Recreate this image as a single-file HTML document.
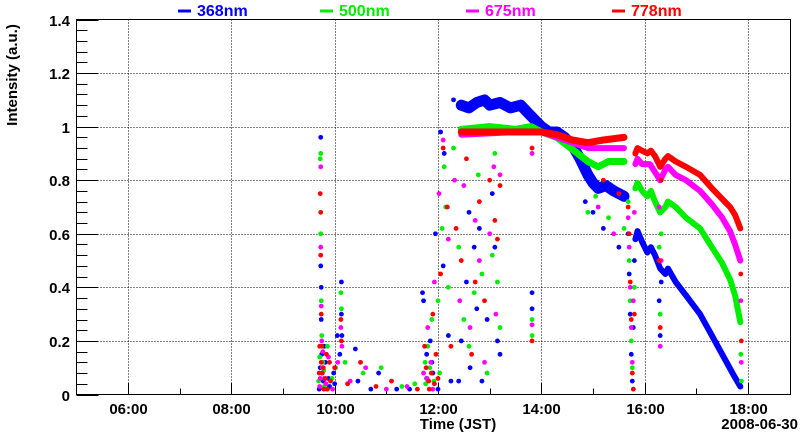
<!DOCTYPE html>
<html><head><meta charset="utf-8">
<style>
html,body{margin:0;padding:0;background:#fff;}
svg{display:block;font-family:"Liberation Sans",sans-serif;font-weight:bold;}
</style></head>
<body>
<svg id="chart" width="800" height="434" viewBox="0 0 800 434" xmlns="http://www.w3.org/2000/svg">
<g id="grid"></g>
<g id="axes"></g>
<g id="data"></g>
<g id="legend"></g>
<text x="0" y="0" transform="translate(17,75) rotate(-90)" text-anchor="middle" font-size="15">Intensity (a.u.)</text>
<text x="458" y="429" text-anchor="middle" font-size="15">Time (JST)</text>
<text x="798" y="429" text-anchor="end" font-size="15">2008-06-30</text>
</svg>
<script>
// ---- data ----
const seriesNames = ["368nm","500nm","675nm","778nm"];
const seriesColors = ["#0000ff","#00ee00","#ff00ff","#ff0000"];
const xTickHours = [6,8,10,12,14,16,18];
const xTickLabels = ["06:00","08:00","10:00","12:00","14:00","16:00","18:00"];
const yTickValues = [0,0.2,0.4,0.6,0.8,1,1.2,1.4];
const yTickLabels = ["0","0.2","0.4","0.6","0.8","1","1.2","1.4"];

// continuous segments: [time(h), value]
const blueCurveA = [[12.45,1.08],[12.6,1.07],[12.75,1.09],[12.9,1.10],[13.0,1.08],[13.2,1.09],[13.4,1.07],[13.6,1.08],[13.75,1.05],[13.9,1.02],[14.0,1.0],[14.15,0.98],[14.3,0.98],[14.45,0.96],[14.6,0.93],[14.75,0.88],[14.9,0.82],[15.0,0.79],[15.1,0.77],[15.25,0.78],[15.4,0.76],[15.6,0.74]];
const blueCurveB = [[15.82,0.58],[15.86,0.61],[15.95,0.57],[16.05,0.53],[16.12,0.55],[16.2,0.52],[16.3,0.47],[16.4,0.45],[16.45,0.47],[16.6,0.42],[16.8,0.37],[17.07,0.30],[17.3,0.22],[17.5,0.15],[17.7,0.08],[17.85,0.03]];
const greenCurveA = [[12.45,0.99],[13.0,1.0],[13.5,0.99],[13.8,1.0],[14.0,0.98],[14.3,0.96],[14.5,0.93],[14.7,0.90],[14.9,0.87],[15.1,0.85],[15.3,0.87],[15.6,0.87]];
const greenCurveB = [[15.82,0.77],[15.86,0.79],[15.95,0.76],[16.05,0.74],[16.12,0.76],[16.2,0.72],[16.3,0.68],[16.4,0.70],[16.45,0.72],[16.6,0.70],[16.8,0.66],[17.07,0.62],[17.3,0.55],[17.5,0.49],[17.65,0.43],[17.75,0.37],[17.85,0.27]];
const magentaCurveA = [[12.45,0.97],[13.5,0.98],[14.0,0.98],[14.3,0.96],[14.6,0.94],[14.9,0.92],[15.2,0.92],[15.6,0.92]];
const magentaCurveB = [[15.82,0.86],[15.86,0.88],[15.95,0.86],[16.1,0.86],[16.2,0.83],[16.3,0.80],[16.4,0.84],[16.45,0.85],[16.6,0.82],[16.8,0.80],[17.07,0.76],[17.3,0.71],[17.5,0.66],[17.65,0.61],[17.75,0.56],[17.85,0.50]];
const redCurveA = [[12.45,0.98],[13.5,0.98],[14.0,0.98],[14.3,0.97],[14.6,0.95],[14.9,0.94],[15.2,0.95],[15.6,0.96]];
const redCurveB = [[15.82,0.90],[15.86,0.92],[15.95,0.91],[16.05,0.90],[16.12,0.91],[16.2,0.89],[16.3,0.85],[16.4,0.88],[16.45,0.89],[16.6,0.87],[16.8,0.85],[17.07,0.82],[17.3,0.77],[17.5,0.73],[17.65,0.70],[17.75,0.67],[17.85,0.62]];

// scattered points: [time(h), value]
const blueScatter = [[9.70,0.02],[9.72,0.10],[9.73,0.96],[9.73,0.48],[9.74,0.40],[9.74,0.28],[9.75,0.15],[9.78,0.05],[9.82,0.12],[9.9,0.03],[9.98,0.08],[10.05,0.22],[10.1,0.15],[10.13,0.42],[10.13,0.30],[10.14,0.22],[10.4,0.17],[10.45,0.05],[10.7,0.02],[10.85,0.08],[11.2,0.02],[11.45,0.02],[11.7,0.38],[11.72,0.35],[11.78,0.15],[11.85,0.2],[11.9,0.08],[11.95,0.6],[12.0,0.02],[12.05,0.98],[12.1,0.48],[12.12,0.9],[12.2,0.22],[12.3,1.1],[12.4,0.05],[12.45,0.2],[12.55,0.42],[12.6,0.68],[12.7,0.55],[12.75,0.32],[12.8,0.62],[12.85,0.05],[12.95,0.28],[13.05,0.75],[13.1,0.55],[13.15,0.2],[13.2,0.15],[13.82,0.38],[13.82,0.32],[14.85,0.72],[15.0,0.68],[15.2,0.62],[15.5,0.55],[15.68,0.6],[15.7,0.45],[15.72,0.3],[15.74,0.15],[15.76,0.05],[15.78,0.25],[15.8,0.5],[16.28,0.35],[16.3,0.22],[16.32,0.42],[9.76,0.08],[9.8,0.18],[9.88,0.06],[10.0,0.04],[11.78,0.06],[11.88,0.12],[12.25,0.05],[12.62,0.1]];
const greenScatter = [[9.69,0.05],[9.72,0.88],[9.73,0.90],[9.73,0.60],[9.74,0.35],[9.75,0.22],[9.77,0.12],[9.8,0.03],[9.86,0.18],[9.95,0.06],[10.02,0.1],[10.12,0.38],[10.13,0.32],[10.2,0.12],[10.55,0.08],[10.9,0.1],[11.3,0.03],[11.55,0.04],[11.75,0.12],[11.8,0.18],[11.88,0.28],[11.92,0.05],[12.0,0.35],[12.08,0.62],[12.12,0.85],[12.15,0.7],[12.2,0.4],[12.3,0.92],[12.4,0.55],[12.5,0.28],[12.6,0.18],[12.7,0.38],[12.78,0.82],[12.85,0.45],[12.95,0.08],[13.05,0.52],[13.1,0.9],[13.15,0.42],[13.2,0.25],[13.82,0.28],[13.82,0.22],[14.9,0.68],[15.05,0.74],[15.3,0.66],[15.6,0.62],[15.68,0.72],[15.7,0.5],[15.72,0.35],[15.74,0.2],[15.76,0.1],[15.78,0.02],[15.8,0.4],[16.28,0.55],[16.3,0.3],[16.32,0.6],[17.86,0.15],[17.87,0.05],[9.71,0.14],[9.79,0.09],[9.84,0.02],[11.76,0.04],[11.84,0.1],[12.03,0.08]];
const magentaScatter = [[9.71,0.03],[9.73,0.85],[9.73,0.55],[9.74,0.33],[9.75,0.2],[9.76,0.1],[9.8,0.06],[9.88,0.14],[9.96,0.02],[10.06,0.12],[10.12,0.25],[10.14,0.18],[10.3,0.05],[10.6,0.1],[11.0,0.02],[11.4,0.03],[11.72,0.08],[11.8,0.25],[11.86,0.12],[11.93,0.42],[12.02,0.75],[12.1,0.95],[12.2,0.58],[12.32,0.8],[12.42,0.35],[12.5,0.78],[12.62,0.25],[12.72,0.65],[12.8,0.5],[12.9,0.12],[13.0,0.6],[13.08,0.85],[13.12,0.3],[13.2,0.82],[13.82,0.26],[13.82,0.9],[15.1,0.7],[15.4,0.6],[15.68,0.66],[15.7,0.55],[15.72,0.4],[15.74,0.25],[15.76,0.12],[15.78,0.35],[15.8,0.68],[16.28,0.7],[16.3,0.18],[16.32,0.5],[17.86,0.35],[17.87,0.12],[9.72,0.06],[9.77,0.16],[9.83,0.04],[11.79,0.06],[11.9,0.02]];
const redScatter = [[9.70,0.08],[9.72,0.75],[9.73,0.68],[9.73,0.52],[9.74,0.3],[9.75,0.18],[9.76,0.08],[9.79,0.02],[9.84,0.15],[9.92,0.05],[10.0,0.1],[10.12,0.28],[10.13,0.2],[10.25,0.04],[10.5,0.12],[10.8,0.03],[11.1,0.05],[11.6,0.02],[11.74,0.18],[11.82,0.05],[11.9,0.3],[11.96,0.15],[12.05,0.45],[12.1,0.92],[12.18,0.7],[12.25,0.18],[12.35,0.62],[12.45,0.5],[12.55,0.88],[12.65,0.15],[12.72,0.42],[12.8,0.72],[12.9,0.35],[13.0,0.8],[13.1,0.65],[13.15,0.58],[13.2,0.78],[13.82,0.92],[13.82,0.2],[15.2,0.8],[15.5,0.75],[15.68,0.7],[15.7,0.6],[15.72,0.42],[15.74,0.28],[15.76,0.08],[15.78,0.02],[15.8,0.3],[16.28,0.5],[16.3,0.25],[16.32,0.8],[17.86,0.45],[17.87,0.2],[9.71,0.18],[9.74,0.12],[9.78,0.1],[9.82,0.06],[9.86,0.02],[9.9,0.12],[11.77,0.1],[11.83,0.02],[11.87,0.08],[11.93,0.04],[12.0,0.06]];

const curvesBySeries = [[blueCurveA,blueCurveB],[greenCurveA,greenCurveB],[magentaCurveA,magentaCurveB],[redCurveA,redCurveB]];
const scatterBySeries = [blueScatter,greenScatter,magentaScatter,redScatter];
const curveWidths = [[11,6],[7,6],[6,6],[7,6]];

// ---- axes ----
const X0=76.5, X1=790.5, Y0=394.5, Y1=19.5;
function xScale(h){ return 128 + (h-6)*51.67; }
function yScale(v){ return Y0 - v*(Y0-Y1)/1.4; }
const NS="http://www.w3.org/2000/svg";
function mk(tag, attrs, parent){ const e=document.createElementNS(NS,tag); for(const k in attrs) e.setAttribute(k,attrs[k]); parent.appendChild(e); return e; }

const grid=document.getElementById('grid'), axes=document.getElementById('axes'), dataG=document.getElementById('data'), legend=document.getElementById('legend');

xTickHours.forEach((h,i)=>{
  const x=Math.round(xScale(h))+0.5;
  const g=mk('line',{x1:x,x2:x,y1:Y1,y2:Y0,stroke:'#000','stroke-width':1,'stroke-dasharray':'1,2'},grid);
  
  
  const t=mk('text',{x:x,y:414,'text-anchor':'middle','font-size':15},axes);
  t.textContent=xTickLabels[i];
  
  
});
for(let h=5; h<=18.8; h+=1){
  const x=Math.round(xScale(h))+0.5;
  const major = xTickHours.indexOf(h)>=0;
  const tk=mk('line',{x1:x,x2:x,y1:Y0,y2:Y0-(major?11:6),stroke:'#000','stroke-width':1},axes);
  
  
}
yTickValues.forEach((v,i)=>{
  const y=Math.round(yScale(v))+0.5;
  if(v>0 && v<1.4){
    const g=mk('line',{x1:X0,x2:X1,y1:y,y2:y,stroke:'#000','stroke-width':1,'stroke-dasharray':'1,2'},grid);
    
    
  }
  const t=mk('text',{x:70,y:y+5.5,'text-anchor':'end','font-size':15},axes);
  t.textContent=yTickLabels[i];
  
  
});
for(let k=0;k<=35;k++){
  const v=k*0.04;
  const y=Math.round(yScale(v))+0.5;
  const tk=mk('line',{x1:X0,x2:X0+(k%5===0?22:11),y1:y,y2:y,stroke:'#000','stroke-width':1},axes);
  
  
}
const frame=mk('rect',{x:X0,y:Y1,width:X1-X0,height:Y0-Y1,fill:'none',stroke:'#000','stroke-width':1},axes);



// ---- series ----
seriesNames.forEach((name,si)=>{
  const col=seriesColors[si];
  const sg=mk('g',{},dataG);
  
  
  scatterBySeries[si].forEach(p=>{
    const c=mk('circle',{cx:xScale(p[0]),cy:yScale(p[1]),r:2.4,fill:col},sg);
    
    
  });
  curvesBySeries[si].forEach((seg,k)=>{
    const pts=seg.map(p=>xScale(p[0]).toFixed(1)+','+yScale(p[1]).toFixed(1)).join(' ');
    const pl=mk('polyline',{points:pts,fill:'none',stroke:col,'stroke-width':curveWidths[si][k],'stroke-linejoin':'round','stroke-linecap':'round'},sg);
    
    
  });
});

// ---- legend ----
const legendX=[178,320,466,612];
seriesNames.forEach((name,i)=>{
  const lg=mk('g',{},legend);
  
  
  mk('line',{x1:legendX[i],x2:legendX[i]+13,y1:11,y2:11,stroke:seriesColors[i],'stroke-width':3},lg);
  const t=mk('text',{x:legendX[i]+19,y:16,'font-size':16,fill:seriesColors[i]},lg);
  t.textContent=name;
});
</script>
</body></html>
